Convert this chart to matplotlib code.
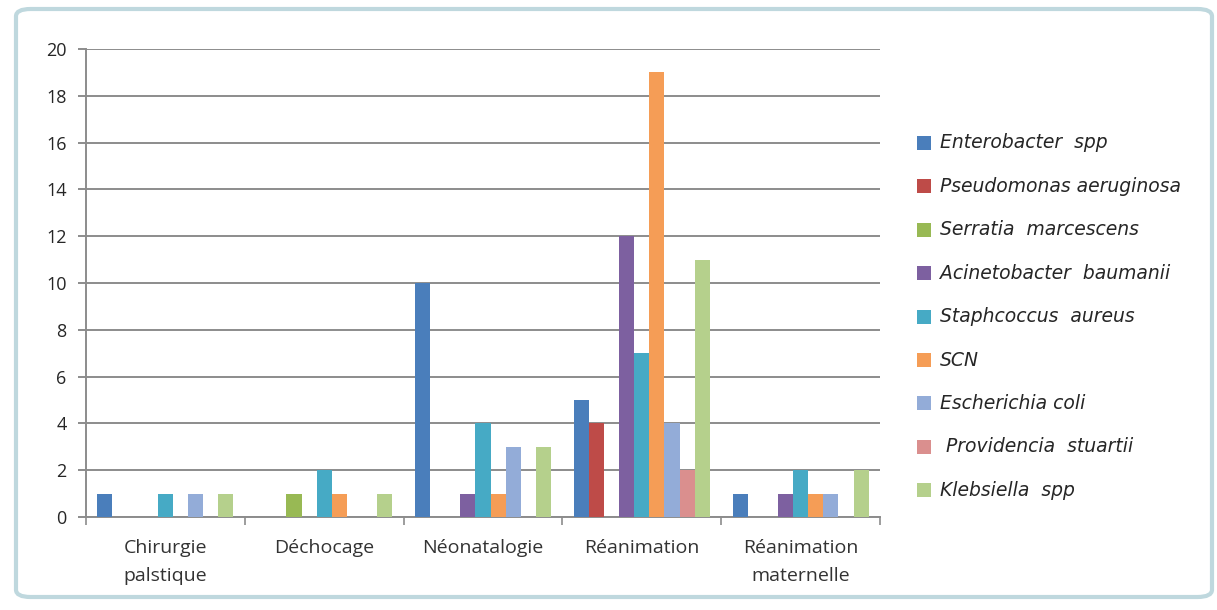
import numpy as np
import matplotlib
matplotlib.use("Agg")
import matplotlib.pyplot as plt
from matplotlib.patches import FancyBboxPatch, Rectangle

categories = ["Chirurgie\npalstique", "Déchocage", "Néonatalogie", "Réanimation",
              "Réanimation\nmaternelle"]

series_names = ["Enterobacter  spp", "Pseudomonas aeruginosa", "Serratia  marcescens",
                "Acinetobacter  baumanii", "Staphcoccus  aureus", "SCN",
                "Escherichia coli", " Providencia  stuartii", "Klebsiella  spp"]

enterobacter = [1, 0, 10, 5, 1]
pseudomonas = [0, 0, 0, 4, 0]
serratia = [0, 1, 0, 0, 0]
acinetobacter = [0, 0, 1, 12, 1]
staphylococcus = [1, 2, 4, 7, 2]
scn = [0, 1, 1, 19, 1]
escherichia = [1, 0, 3, 4, 1]
providencia = [0, 0, 0, 2, 0]
klebsiella = [1, 1, 3, 11, 2]

series_values = [enterobacter, pseudomonas, serratia, acinetobacter, staphylococcus,
                 scn, escherichia, providencia, klebsiella]

colors = ["#4A7EBB", "#BE4B48", "#98B954", "#7D60A0", "#46AAC5", "#F59D56",
          "#93ACD8", "#DA8F8E", "#B5D08C"]

yticks = [0, 2, 4, 6, 8, 10, 12, 14, 16, 18, 20]

W, H = 1217, 610
fig = plt.figure(figsize=(W / 100, H / 100), dpi=100)
fig.patch.set_facecolor("white")

# chart frame
frame = FancyBboxPatch((16 / W, 13 / H), 1196 / W, 588 / H,
                       boxstyle="round,pad=0,rounding_size=0.012",
                       transform=fig.transFigure, facecolor="none",
                       edgecolor="#BFD8DE", linewidth=3.0, zorder=-1)
fig.patches.append(frame)

ax = fig.add_axes([86 / W, 1 - 517 / H, (880 - 86) / W, (517 - 49) / H])
ax.set_facecolor("none")
ax.set_zorder(2)

n_cat = len(categories)
n_ser = len(series_values)
gap = 1.5
bw = 1.0 / (n_ser + gap)
x = np.arange(n_cat)
for i, (vals, c) in enumerate(zip(series_values, colors)):
    offs = -0.5 + gap * bw / 2 + bw * (i + 0.5)
    ax.bar(x + offs, vals, width=bw, color=c, label=series_names[i],
           zorder=3, linewidth=0)

ax.set_xlim(-0.5, n_cat - 0.5)
ax.set_ylim(0, 20)
ax.set_yticks(yticks)
ax.set_yticklabels([str(v) for v in yticks], fontsize=13, fontfamily="Open Sans",
                   color="#262626")
ax.yaxis.grid(True, color="#8C8C8C", linewidth=1.4, zorder=1)
ax.set_axisbelow(True)

ax.set_xticks(np.arange(-0.5, n_cat, 1.0))
ax.set_xticklabels([])
ax.tick_params(axis="x", direction="out", length=6, width=1.2, color="#8C8C8C")
ax.tick_params(axis="y", direction="out", length=6, width=1.4, color="#8C8C8C", pad=8)

for i, cat in enumerate(categories):
    ax.text(i, -0.95, cat, ha="center", va="top", fontsize=14,
            fontfamily="Open Sans", color="#333333", linespacing=1.7,
            transform=ax.transData)

for side in ["top", "right"]:
    ax.spines[side].set_visible(False)
ax.spines["left"].set_color("#8C8C8C")
ax.spines["left"].set_linewidth(1.4)
ax.spines["bottom"].set_color("#8C8C8C")
ax.spines["bottom"].set_linewidth(1.4)

# legend
y0 = 143
step = 43.4
for i, (name, c) in enumerate(zip(series_names, colors)):
    yy = 1 - (y0 + i * step) / H
    fig.patches.append(Rectangle((917 / W, yy - 7 / H), 14 / W, 14 / H,
                                 transform=fig.transFigure, facecolor=c,
                                 edgecolor="none"))
    fig.text(940 / W, yy, name, ha="left", va="center", fontsize=13.5,
             fontstyle="italic", fontfamily="DejaVu Sans", color="#262626")

fig.savefig("out.png", dpi=100)
